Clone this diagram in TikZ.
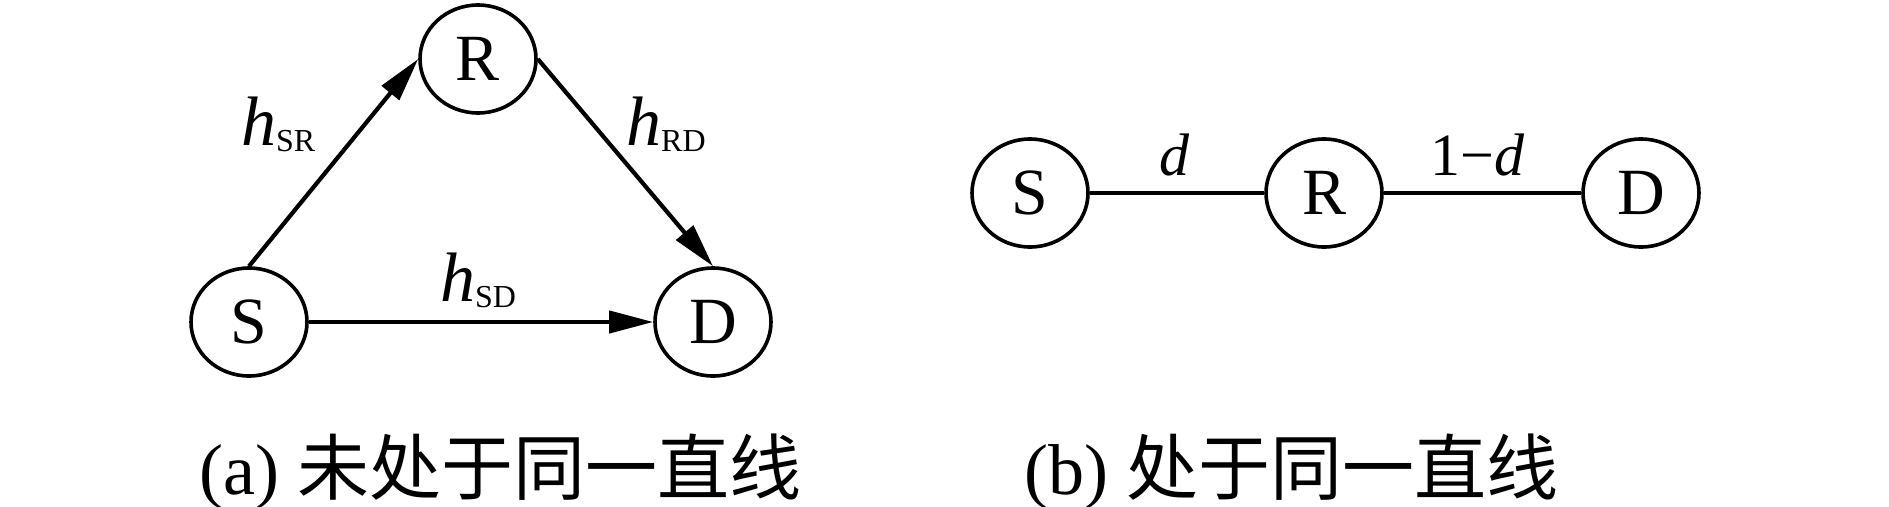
\documentclass[tikz,border=0pt]{standalone}
\usepackage{fontspec}
\setmainfont{Liberation Serif}
\newfontfamily\cjk{Noto Sans CJK SC}
\usetikzlibrary{arrows.meta,shapes.geometric}
\begin{document}
\begin{tikzpicture}[x=1pt,y=-1pt,
  station/.style={draw,ellipse,line width=3.6pt,minimum width=116pt,minimum height=108pt,inner sep=0pt,
    font=\fontsize{66}{66}\selectfont},
  link/.style={line width=4.2pt},
  arr/.style={link,-{Triangle[length=44pt,width=22pt]}},
  lab/.style={anchor=base west,inner sep=0pt,font=\fontsize{70}{70}\selectfont},
  sub/.style={},
  dlab/.style={anchor=base west,inner sep=0pt,font=\fontsize{60}{60}\selectfont},
  captext/.style={anchor=base west,inner sep=0pt,font=\fontsize{72}{72}\selectfont}]
\useasboundingbox (0,0) rectangle (1889,506);
% (a)
\node[station] (aR) at (478,59) {R};
\node[station] (aS) at (249,322) {S};
\node[station] (aD) at (713,322) {D};
\draw[arr] (aS.north) -- (aR.west);
\draw[arr] (aR.east) -- (aD.north);
\draw[arr] (aS.east) -- (aD.west);
\node[lab] (hSR) at (241,145) {\textit{h}\raisebox{-6pt}{\fontsize{32}{32}\selectfont SR}};
\node[lab] (hRD) at (626,145) {\textit{h}\raisebox{-6pt}{\fontsize{32}{32}\selectfont RD}};
\node[lab] (hSD) at (440,301) {\textit{h}\raisebox{-6pt}{\fontsize{32}{32}\selectfont SD}};
% (b)
\node[station] (bS) at (1030,193) {S};
\node[station] (bR) at (1324,193) {R};
\node[station] (bD) at (1641,193) {D};
\draw[link] (bS) -- (bR);
\draw[link] (bR) -- (bD);
\node[dlab] (ld) at (1159,175) {\textit{d}};
\node[dlab] (l1d) at (1430,175) {1−\textit{d}};
% captions
\node[captext] (capa) at (199,494) {(a) {\cjk 未处于同一直线}};
\node[captext] (capb) at (1024,494) {(b) {\cjk 处于同一直线}};
\end{tikzpicture}
\end{document}
